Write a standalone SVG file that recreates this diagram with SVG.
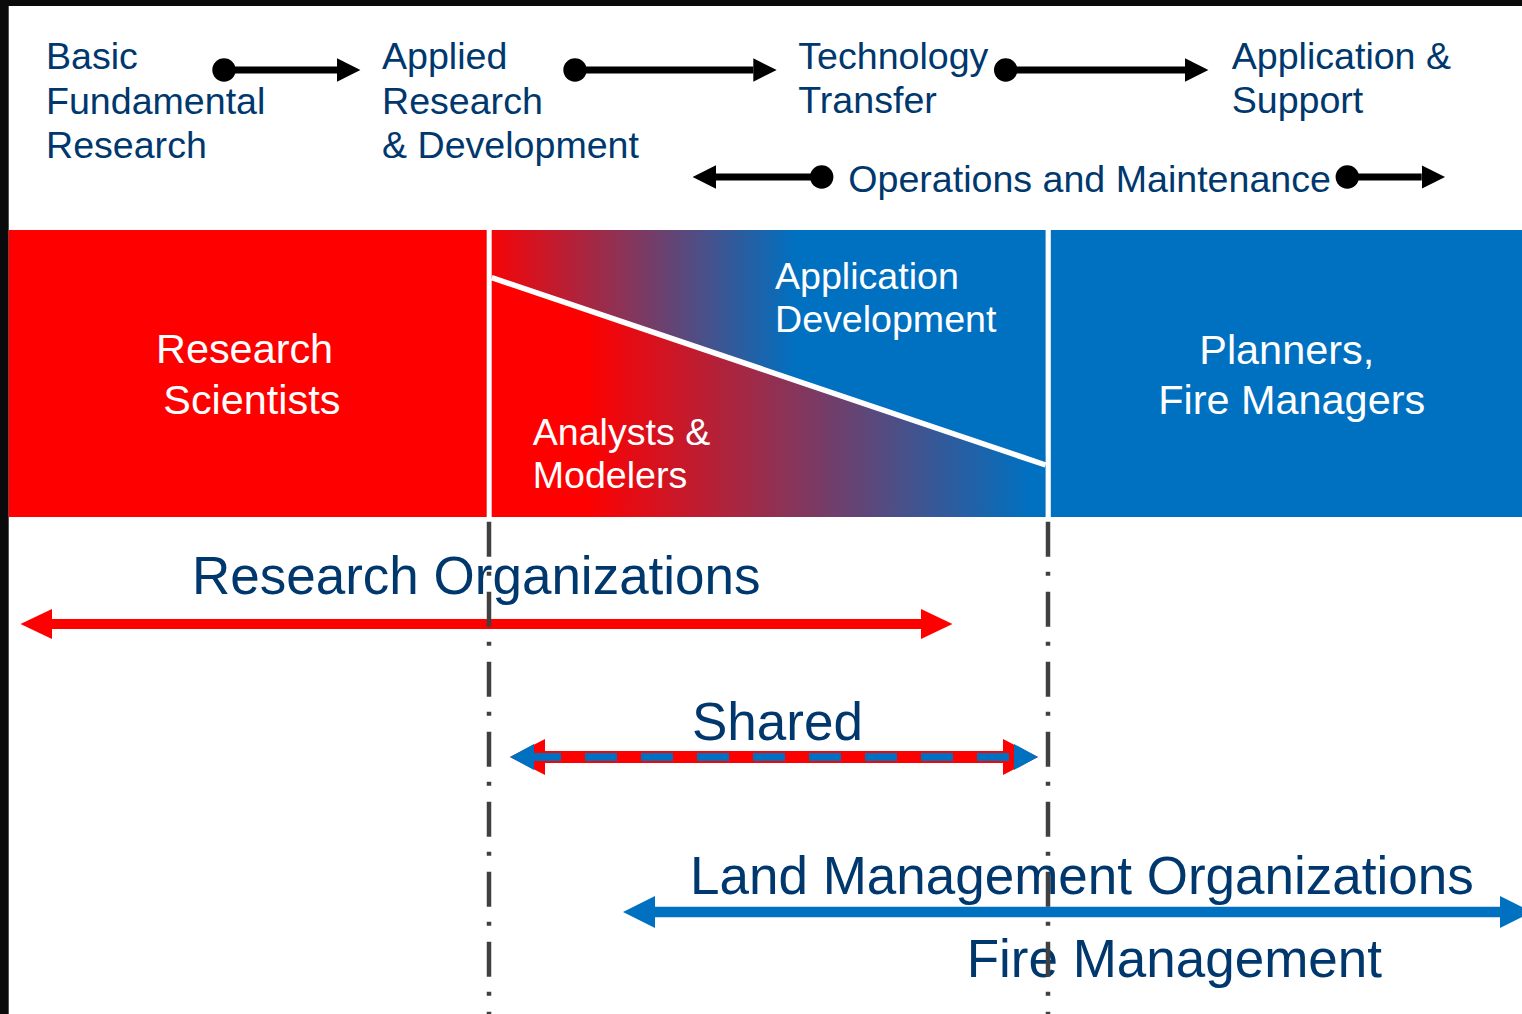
<svg xmlns="http://www.w3.org/2000/svg" width="1522" height="1014" viewBox="0 0 1522 1014">
  <defs>
    <style>
      .stage { font-family: "Liberation Sans", Arial, sans-serif; font-size: 37.6px; fill: #00386E; }
      .role { font-family: "Liberation Sans", Arial, sans-serif; font-size: 41.4px; fill: #FFFFFF; }
      .role-sm { font-family: "Liberation Sans", Arial, sans-serif; font-size: 37.6px; fill: #FFFFFF; }
      .org { font-family: "Liberation Sans", Arial, sans-serif; font-size: 53px; fill: #00386E; }
      .flow { stroke: #000000; stroke-width: 7; fill: none; }
      .divider { stroke: #404040; stroke-width: 4.5; stroke-dasharray: 35 15 4 16; fill: none; }
    </style>
    <linearGradient id="gradUpper" gradientUnits="userSpaceOnUse" x1="480" y1="0" x2="795" y2="0">
      <stop offset="0" stop-color="#FF0000"/>
      <stop offset="1" stop-color="#0070C0"/>
    </linearGradient>
    <linearGradient id="gradLower" gradientUnits="userSpaceOnUse" x1="585" y1="0" x2="1030" y2="0">
      <stop offset="0" stop-color="#FF0000"/>
      <stop offset="1" stop-color="#0070C0"/>
    </linearGradient>
    <marker id="dot" markerUnits="userSpaceOnUse" markerWidth="26" markerHeight="26" refX="13" refY="13" orient="auto">
      <circle cx="13" cy="13" r="11.7" fill="#000000"/>
    </marker>
    <marker id="headBlack" markerUnits="userSpaceOnUse" markerWidth="24" markerHeight="24" refX="0" refY="11.7" orient="auto">
      <path d="M0,0 L23.4,11.7 L0,23.4 Z" fill="#000000"/>
    </marker>
    <marker id="headRed" markerUnits="userSpaceOnUse" markerWidth="33" markerHeight="31" refX="0" refY="15" orient="auto-start-reverse">
      <path d="M0,0 L31.5,15 L0,30 Z" fill="#FF0000"/>
    </marker>
    <marker id="headBlue" markerUnits="userSpaceOnUse" markerWidth="34" markerHeight="33" refX="0" refY="16" orient="auto-start-reverse">
      <path d="M0,0 L32,16 L0,32 Z" fill="#0070C0"/>
    </marker>
    <marker id="headRedShared" markerUnits="userSpaceOnUse" markerWidth="36" markerHeight="37" refX="0" refY="18" orient="auto-start-reverse">
      <path d="M0,0 L35,18 L0,36 Z" fill="#FF0000"/>
    </marker>
    <marker id="headBlueShared" markerUnits="userSpaceOnUse" markerWidth="25" markerHeight="27" refX="0" refY="13" orient="auto-start-reverse">
      <path d="M0,0 L24,13 L0,26 Z" fill="#0070C0"/>
    </marker>
  </defs>

  <!-- dark frame and white page -->
  <rect x="0" y="0" width="1522" height="1014" fill="#0A0A0A"/>
  <rect x="8.7" y="6" width="1513.3" height="1008" fill="#FFFFFF"/>

  <!-- stage labels along the top -->
  <g id="stage-basic">
    <text class="stage" x="46" y="69.3">Basic</text>
    <text class="stage" x="46" y="113.7">Fundamental</text>
    <text class="stage" x="46" y="157.7">Research</text>
  </g>
  <g id="stage-applied">
    <text class="stage" x="382" y="69.3">Applied</text>
    <text class="stage" x="382" y="113.7">Research</text>
    <text class="stage" x="382" y="157.7">&amp; Development</text>
  </g>
  <g id="stage-transfer">
    <text class="stage" x="798.3" y="69.3">Technology</text>
    <text class="stage" x="798.3" y="112.7">Transfer</text>
  </g>
  <g id="stage-application">
    <text class="stage" x="1231.7" y="69.3">Application &amp;</text>
    <text class="stage" x="1231.7" y="112.7">Support</text>
  </g>
  <g id="stage-operations">
    <text class="stage" x="848.3" y="191.5">Operations and Maintenance</text>
  </g>

  <!-- role band -->
  <g id="role-research-scientists">
    <rect x="8.7" y="230" width="478" height="287" fill="#FF0000"/>
    <text class="role" x="156" y="363.3">Research</text>
    <text class="role" x="163.3" y="414">Scientists</text>
  </g>
  <g id="role-shared-band">
    <polygon points="491.7,230 1045.6,230 1045.6,464 491.7,277.6" fill="url(#gradUpper)"/>
    <polygon points="491.7,277.6 1045.6,464 1045.6,517 491.7,517" fill="url(#gradLower)"/>
    <line x1="491.7" y1="277.6" x2="1045.6" y2="465" stroke="#FFFFFF" stroke-width="5.5"/>
    <text class="role-sm" x="775" y="289.3">Application</text>
    <text class="role-sm" x="775" y="331.7">Development</text>
    <text class="role-sm" x="532.7" y="445">Analysts &amp;</text>
    <text class="role-sm" x="532.7" y="488.3">Modelers</text>
  </g>
  <g id="role-planners">
    <rect x="1050.8" y="230" width="471.2" height="287" fill="#0070C0"/>
    <text class="role" x="1199.3" y="364.3">Planners,</text>
    <text class="role" x="1158.3" y="414.3">Fire Managers</text>
  </g>

  <!-- organisation labels -->
  <g id="org-research">
    <text class="org" x="192" y="594">Research Organizations</text>
  </g>
  <g id="org-shared">
    <text class="org" x="692" y="740">Shared</text>
  </g>
  <g id="org-land">
    <text class="org" x="690" y="894">Land Management Organizations</text>
    <text class="org" x="966.7" y="976.7">Fire Management</text>
  </g>

  <!-- connectors -->
  <g id="connectors">
    <line class="flow" x1="224" y1="70" x2="337" y2="70" marker-start="url(#dot)" marker-end="url(#headBlack)"/>
    <line class="flow" x1="575" y1="70" x2="753.3" y2="70" marker-start="url(#dot)" marker-end="url(#headBlack)"/>
    <line class="flow" x1="1005.7" y1="70" x2="1185" y2="70" marker-start="url(#dot)" marker-end="url(#headBlack)"/>
    <line class="flow" x1="821.7" y1="177" x2="716" y2="177" marker-start="url(#dot)" marker-end="url(#headBlack)"/>
    <line class="flow" x1="1347.3" y1="177" x2="1421.7" y2="177" marker-start="url(#dot)" marker-end="url(#headBlack)"/>

    <line x1="52" y1="624" x2="921" y2="624" stroke="#FF0000" stroke-width="10" marker-start="url(#headRed)" marker-end="url(#headRed)"/>

    <line x1="545" y1="757" x2="1003" y2="757" stroke="#FF0000" stroke-width="12" marker-start="url(#headRedShared)" marker-end="url(#headRedShared)"/>
    <line x1="534" y1="757" x2="1014" y2="757" stroke="#0070C0" stroke-width="8" stroke-dasharray="32 24" stroke-dashoffset="5" marker-start="url(#headBlueShared)" marker-end="url(#headBlueShared)"/>

    <line x1="655" y1="912" x2="1500" y2="912" stroke="#0070C0" stroke-width="10.5" marker-start="url(#headBlue)" marker-end="url(#headBlue)"/>

    <line class="divider" x1="489" y1="521.7" x2="489" y2="1014"/>
    <line class="divider" x1="1048" y1="521.7" x2="1048" y2="1014"/>
  </g>
</svg>
